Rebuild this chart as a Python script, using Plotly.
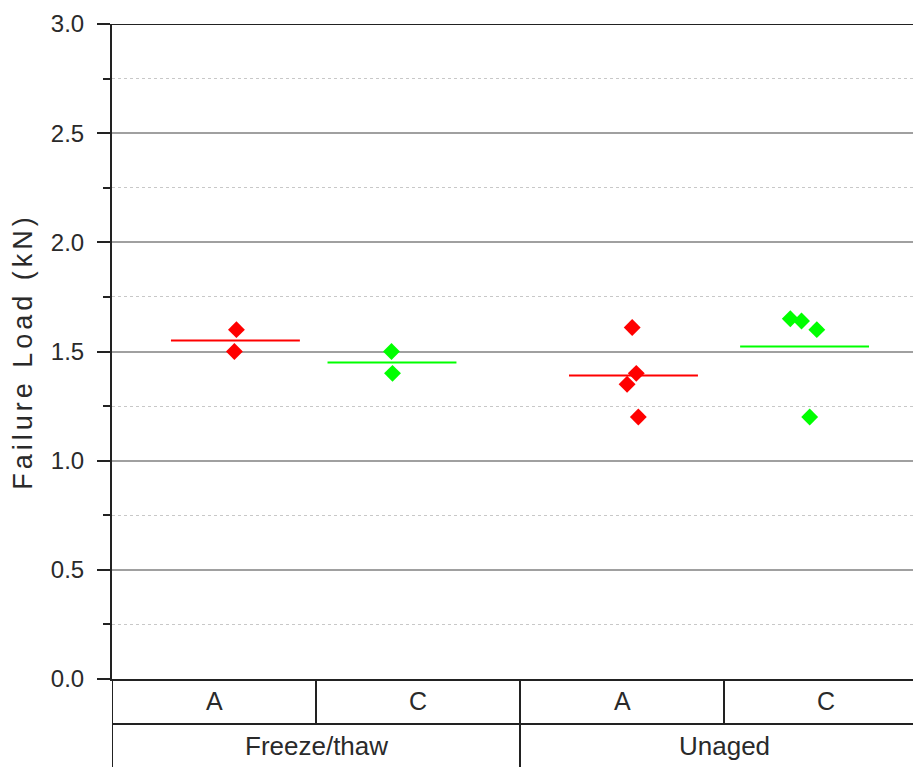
import plotly.graph_objects as go

# ---- data -------------------------------------------------------------
group_labels = ["Freeze/thaw", "Unaged"]
type_labels = ["A", "C", "A", "C"]
category_group = [0, 0, 1, 1]

ft_a = [1.60, 1.50]
ft_c = [1.50, 1.40]
un_a = [1.61, 1.40, 1.35, 1.20]
un_c = [1.65, 1.64, 1.60, 1.20]

# horizontal jitter of each specimen inside its category (category units)
ft_a_jit = [0.11, 0.10]
ft_c_jit = [-0.13, -0.125]
un_a_jit = [0.05, 0.07, 0.025, 0.08]
un_c_jit = [-0.175, -0.12, -0.045, -0.08]

series = [
    (ft_a, ft_a_jit, "#ff0000"),
    (ft_c, ft_c_jit, "#00ff00"),
    (un_a, un_a_jit, "#ff0000"),
    (un_c, un_c_jit, "#00ff00"),
]

y_ticks = [0.0, 0.5, 1.0, 1.5, 2.0, 2.5, 3.0]

# ---- styling ----------------------------------------------------------
FONT = "Liberation Sans, Arial, sans-serif"
TEXT = "#2a2a2a"
AXIS = "#222222"
MEAN_HALF = 0.316
ROW1 = -0.0687   # bottom of the type row (paper units)
ROW2 = -0.1344   # bottom of the group row

fig = go.Figure()

for i, (vals, jit, color) in enumerate(series):
    xs = [i + j for j in jit]
    xc = sum(xs) / len(xs)
    mean = sum(vals) / len(vals)
    fig.add_trace(go.Scatter(
        x=[xc - MEAN_HALF, xc + MEAN_HALF], y=[mean, mean],
        mode="lines", line=dict(color=color, width=2),
        hoverinfo="skip", showlegend=False))
    fig.add_trace(go.Scatter(
        x=xs, y=vals, mode="markers",
        marker=dict(symbol="diamond", size=13, color=color, line=dict(width=0)),
        showlegend=False))

n = len(type_labels)
shapes = []
# top frame line
shapes.append(dict(type="line", xref="paper", yref="y", x0=0, x1=1, y0=3, y1=3,
                   line=dict(color=AXIS, width=2)))
# left axis continues down through the category table
shapes.append(dict(type="line", xref="x", yref="paper", x0=-0.5, x1=-0.5,
                   y0=0, y1=ROW2, line=dict(color=AXIS, width=2)))
# row separator
shapes.append(dict(type="line", xref="x", yref="paper", x0=-0.5, x1=n - 0.5,
                   y0=ROW1, y1=ROW1, line=dict(color=AXIS, width=2)))
# dividers between types
for k in range(1, n):
    shapes.append(dict(type="line", xref="x", yref="paper", x0=k - 0.5, x1=k - 0.5,
                       y0=0, y1=ROW1, line=dict(color=AXIS, width=2)))
# dividers between groups
for k in range(1, n):
    if category_group[k] != category_group[k - 1]:
        shapes.append(dict(type="line", xref="x", yref="paper", x0=k - 0.5, x1=k - 0.5,
                           y0=ROW1, y1=ROW2, line=dict(color=AXIS, width=2)))

annotations = []
for k, lab in enumerate(type_labels):
    annotations.append(dict(x=k, y=ROW1 / 2, xref="x", yref="paper", text=lab,
                            showarrow=False, font=dict(family=FONT, size=25, color=TEXT),
                            xanchor="center", yanchor="middle"))
for g, lab in enumerate(group_labels):
    members = [k for k in range(n) if category_group[k] == g]
    xg = sum(members) / len(members)
    annotations.append(dict(x=xg, y=(ROW1 + ROW2) / 2, xref="x", yref="paper", text=lab,
                            showarrow=False, font=dict(family=FONT, size=26, color=TEXT),
                            xanchor="center", yanchor="middle"))

fig.update_layout(
    width=913, height=767,
    margin=dict(l=112, r=0, t=24, b=88, pad=0),
    paper_bgcolor="white", plot_bgcolor="white",
    shapes=shapes, annotations=annotations,
    xaxis=dict(range=[-0.5, -0.5 + 801 / 204], showticklabels=False, ticks="",
               showgrid=False, zeroline=False, showline=True,
               linecolor=AXIS, linewidth=2, fixedrange=True),
    yaxis=dict(range=[0, 3], tickvals=y_ticks, ticktext=[f"{v:.1f}" for v in y_ticks],
               ticks="outside", ticklen=13, tickwidth=2, tickcolor=AXIS,
               ticklabelstandoff=8,
               tickfont=dict(family=FONT, size=24, color=TEXT),
               showgrid=True, gridcolor="#a0a0a0", gridwidth=1.5,
               zeroline=False, showline=True, linecolor=AXIS, linewidth=2,
               minor=dict(dtick=0.25, tick0=0, ticks="outside", ticklen=7,
                          tickwidth=2, tickcolor=AXIS, showgrid=True,
                          gridcolor="#c8c8c8", griddash="dot", gridwidth=1),
               title=dict(text='<span style="letter-spacing:4px">Failure Load (kN)</span>',
                          standoff=10,
                          font=dict(family=FONT, size=27, color=TEXT)),
               fixedrange=True),
)

fig.write_html("out.html")
